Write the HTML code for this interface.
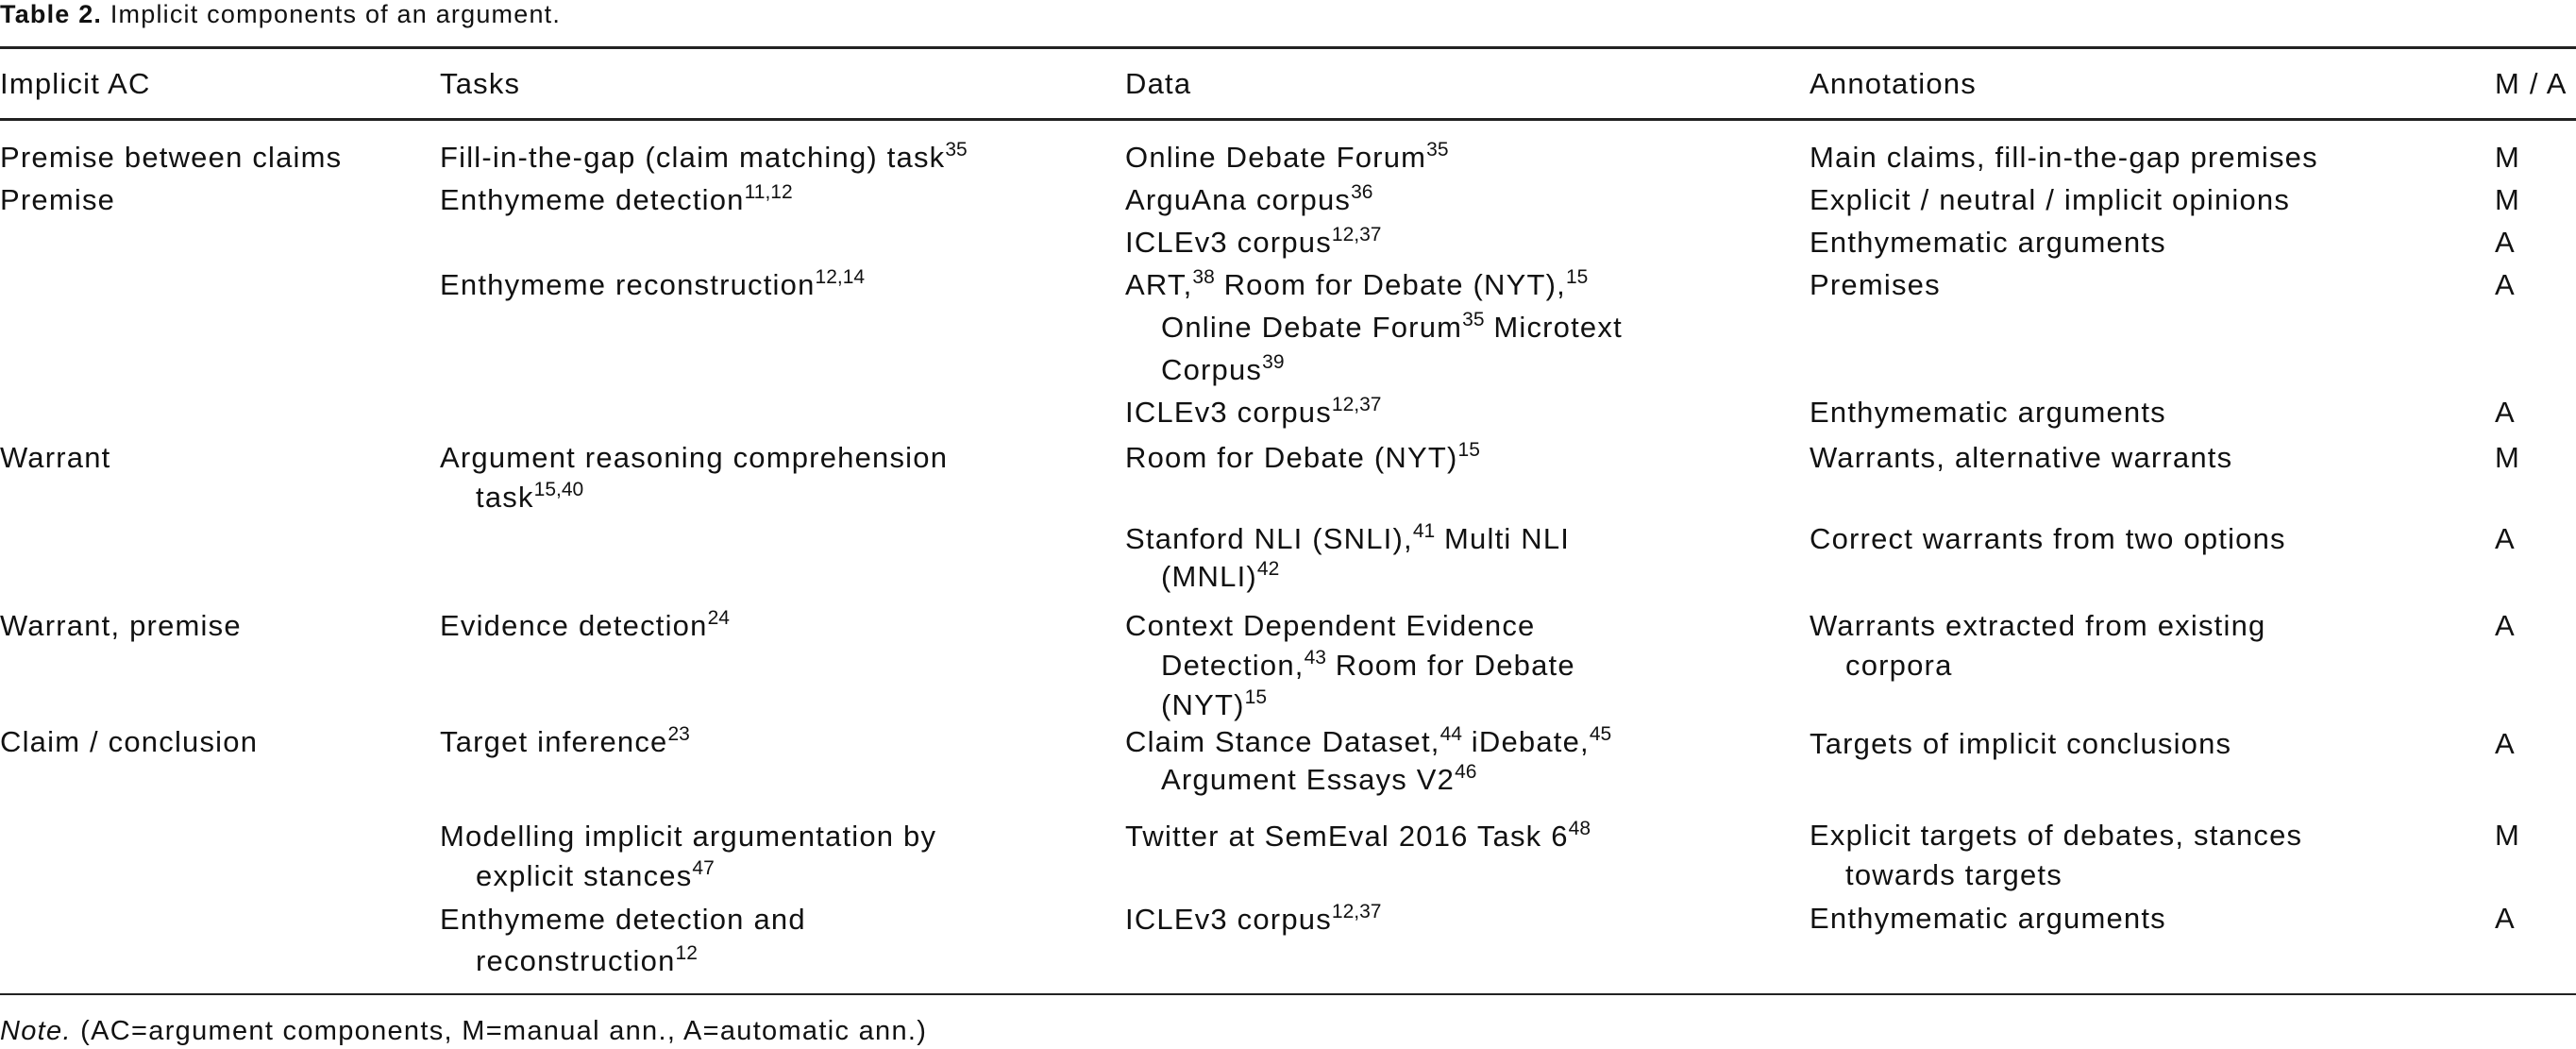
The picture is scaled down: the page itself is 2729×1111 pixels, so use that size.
<!DOCTYPE html>
<html><head><meta charset="utf-8"><style>
html,body{margin:0;padding:0;background:#fff;}
body{width:2729px;height:1111px;position:relative;overflow:hidden;color:#111;font-family:"Liberation Sans",sans-serif;}
.t{position:absolute;font-size:31px;letter-spacing:1.2px;line-height:1;white-space:nowrap;}
.s{position:relative;top:-12px;font-size:21px;line-height:0;letter-spacing:0;}
.r{position:absolute;left:0;width:2729px;background:#222;}
</style></head><body>
<div class="t" style="left:0;top:2px;font-size:27px;letter-spacing:1.2px"><b>Table 2.</b> Implicit components of an argument.</div>
<div class="r" style="top:49px;height:3px"></div>
<div class="r" style="top:125px;height:3px"></div>
<div class="r" style="top:1052px;height:2px"></div>

<div class="t" style="left:0;top:73px">Implicit AC</div>
<div class="t" style="left:466px;top:73px">Tasks</div>
<div class="t" style="left:1192px;top:73px">Data</div>
<div class="t" style="left:1917px;top:73px">Annotations</div>
<div class="t" style="left:2643px;top:73px">M / A</div>

<div class="t" style="left:0;top:151px">Premise between claims</div>
<div class="t" style="left:466px;top:151px">Fill-in-the-gap (claim matching) task<span class="s">35</span></div>
<div class="t" style="left:1192px;top:151px">Online Debate Forum<span class="s">35</span></div>
<div class="t" style="left:1917px;top:151px">Main claims, fill-in-the-gap premises</div>
<div class="t" style="left:2643px;top:151px">M</div>

<div class="t" style="left:0;top:196px">Premise</div>
<div class="t" style="left:466px;top:196px">Enthymeme detection<span class="s">11,12</span></div>
<div class="t" style="left:1192px;top:196px">ArguAna corpus<span class="s">36</span></div>
<div class="t" style="left:1917px;top:196px">Explicit / neutral / implicit opinions</div>
<div class="t" style="left:2643px;top:196px">M</div>

<div class="t" style="left:1192px;top:241px">ICLEv3 corpus<span class="s">12,37</span></div>
<div class="t" style="left:1917px;top:241px">Enthymematic arguments</div>
<div class="t" style="left:2643px;top:241px">A</div>

<div class="t" style="left:466px;top:286px">Enthymeme reconstruction<span class="s">12,14</span></div>
<div class="t" style="left:1192px;top:286px">ART,<span class="s">38</span> Room for Debate (NYT),<span class="s">15</span></div>
<div class="t" style="left:1917px;top:286px">Premises</div>
<div class="t" style="left:2643px;top:286px">A</div>
<div class="t" style="left:1230px;top:331px">Online Debate Forum<span class="s">35</span> Microtext</div>
<div class="t" style="left:1230px;top:376px">Corpus<span class="s">39</span></div>

<div class="t" style="left:1192px;top:421px">ICLEv3 corpus<span class="s">12,37</span></div>
<div class="t" style="left:1917px;top:421px">Enthymematic arguments</div>
<div class="t" style="left:2643px;top:421px">A</div>

<div class="t" style="left:0;top:469px">Warrant</div>
<div class="t" style="left:466px;top:469px">Argument reasoning comprehension</div>
<div class="t" style="left:1192px;top:469px">Room for Debate (NYT)<span class="s">15</span></div>
<div class="t" style="left:1917px;top:469px">Warrants, alternative warrants</div>
<div class="t" style="left:2643px;top:469px">M</div>
<div class="t" style="left:504px;top:511px">task<span class="s">15,40</span></div>

<div class="t" style="left:1192px;top:555px">Stanford NLI (SNLI),<span class="s">41</span> Multi NLI</div>
<div class="t" style="left:1917px;top:555px">Correct warrants from two options</div>
<div class="t" style="left:2643px;top:555px">A</div>
<div class="t" style="left:1230px;top:595px">(MNLI)<span class="s">42</span></div>

<div class="t" style="left:0;top:647px">Warrant, premise</div>
<div class="t" style="left:466px;top:647px">Evidence detection<span class="s">24</span></div>
<div class="t" style="left:1192px;top:647px">Context Dependent Evidence</div>
<div class="t" style="left:1917px;top:647px">Warrants extracted from existing</div>
<div class="t" style="left:2643px;top:647px">A</div>
<div class="t" style="left:1230px;top:689px">Detection,<span class="s">43</span> Room for Debate</div>
<div class="t" style="left:1955px;top:689px">corpora</div>
<div class="t" style="left:1230px;top:731px">(NYT)<span class="s">15</span></div>

<div class="t" style="left:0;top:770px">Claim / conclusion</div>
<div class="t" style="left:466px;top:770px">Target inference<span class="s">23</span></div>
<div class="t" style="left:1192px;top:770px">Claim Stance Dataset,<span class="s">44</span> iDebate,<span class="s">45</span></div>
<div class="t" style="left:1917px;top:772px">Targets of implicit conclusions</div>
<div class="t" style="left:2643px;top:772px">A</div>
<div class="t" style="left:1230px;top:810px">Argument Essays V2<span class="s">46</span></div>

<div class="t" style="left:466px;top:870px">Modelling implicit argumentation by</div>
<div class="t" style="left:1192px;top:870px">Twitter at SemEval 2016 Task 6<span class="s">48</span></div>
<div class="t" style="left:1917px;top:869px">Explicit targets of debates, stances</div>
<div class="t" style="left:2643px;top:869px">M</div>
<div class="t" style="left:504px;top:912px">explicit stances<span class="s">47</span></div>
<div class="t" style="left:1955px;top:911px">towards targets</div>

<div class="t" style="left:466px;top:958px">Enthymeme detection and</div>
<div class="t" style="left:1192px;top:958px">ICLEv3 corpus<span class="s">12,37</span></div>
<div class="t" style="left:1917px;top:957px">Enthymematic arguments</div>
<div class="t" style="left:2643px;top:957px">A</div>
<div class="t" style="left:504px;top:1002px">reconstruction<span class="s">12</span></div>

<div class="t" style="left:0;top:1078px;font-size:29px;letter-spacing:1.3px"><i>Note.</i> (AC=argument components, M=manual ann., A=automatic ann.)</div>
</body></html>
